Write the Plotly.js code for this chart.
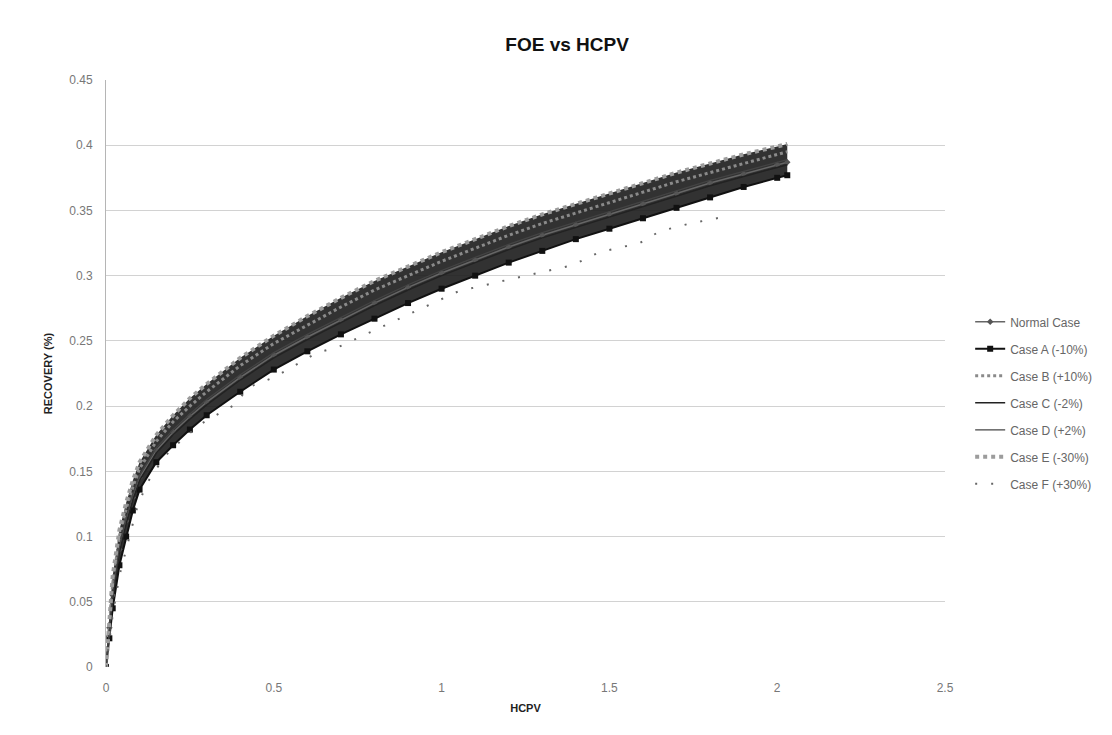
<!DOCTYPE html>
<html>
<head>
<meta charset="utf-8">
<script src="https://cdn.plot.ly/plotly-3.0.1.min.js"></script>
<style>html,body{margin:0;padding:0;background:#fff;}#chart{width:1112px;height:735px;}</style>
</head>
<body>
<div id="chart"></div>
<script>
// HCPV values shared by the main cases
const hcpv = [0, 0.01, 0.02, 0.04, 0.06, 0.08, 0.1, 0.15, 0.2, 0.25, 0.3, 0.4, 0.5, 0.6, 0.7, 0.8, 0.9, 1.0, 1.1, 1.2, 1.3, 1.4, 1.5, 1.6, 1.7, 1.8, 1.9, 2.0, 2.03];

const normalCase = [0, 0.030, 0.055, 0.090, 0.112, 0.130, 0.145, 0.166, 0.180, 0.192, 0.203, 0.222, 0.239, 0.253, 0.266, 0.279, 0.291, 0.302, 0.312, 0.322, 0.331, 0.339, 0.347, 0.355, 0.363, 0.371, 0.378, 0.385, 0.387];
const caseA = [0, 0.022, 0.045, 0.078, 0.100, 0.120, 0.136, 0.157, 0.170, 0.182, 0.193, 0.211, 0.228, 0.242, 0.255, 0.267, 0.279, 0.290, 0.300, 0.310, 0.319, 0.328, 0.336, 0.344, 0.352, 0.360, 0.368, 0.375, 0.377];
const caseB = [0, 0.036, 0.064, 0.100, 0.121, 0.138, 0.152, 0.173, 0.188, 0.200, 0.211, 0.231, 0.248, 0.262, 0.276, 0.289, 0.300, 0.311, 0.321, 0.331, 0.340, 0.348, 0.356, 0.364, 0.372, 0.379, 0.386, 0.393, 0.395];
const caseC = [0, 0.028, 0.053, 0.088, 0.110, 0.128, 0.143, 0.164, 0.178, 0.190, 0.201, 0.220, 0.237, 0.251, 0.264, 0.277, 0.289, 0.300, 0.310, 0.320, 0.329, 0.337, 0.345, 0.353, 0.361, 0.369, 0.376, 0.383, 0.385];
const caseD = [0, 0.032, 0.057, 0.092, 0.114, 0.132, 0.147, 0.168, 0.182, 0.194, 0.205, 0.224, 0.241, 0.255, 0.268, 0.281, 0.293, 0.304, 0.314, 0.324, 0.333, 0.341, 0.349, 0.357, 0.365, 0.373, 0.380, 0.387, 0.389];
const caseE = [0, 0.040, 0.070, 0.105, 0.126, 0.143, 0.157, 0.178, 0.193, 0.206, 0.217, 0.237, 0.254, 0.269, 0.283, 0.296, 0.307, 0.318, 0.328, 0.338, 0.347, 0.355, 0.363, 0.371, 0.379, 0.386, 0.393, 0.399, 0.401];

// Case F (sparse, lower curve)
const hcpvF = [0, 0.01, 0.02, 0.03, 0.04, 0.06, 0.09, 0.12, 0.15, 0.19, 0.28, 0.39, 0.42, 0.5, 0.63, 0.69, 0.9, 1.05, 1.2, 1.39, 1.47, 1.59, 1.65, 1.74, 1.84];
const caseF = [0, 0.02, 0.04, 0.055, 0.07, 0.09, 0.12, 0.14, 0.152, 0.166, 0.186, 0.202, 0.214, 0.222, 0.241, 0.245, 0.27, 0.288, 0.297, 0.308, 0.318, 0.325, 0.334, 0.340, 0.345];

const seriesNames = ['Normal Case', 'Case A (-10%)', 'Case B (+10%)', 'Case C (-2%)', 'Case D (+2%)', 'Case E (-30%)', 'Case F (+30%)'];
const xTicks = [0, 0.5, 1, 1.5, 2, 2.5];
const xTickText = ['0', '0.5', '1', '1.5', '2', '2.5'];
const yTicks = [0, 0.05, 0.1, 0.15, 0.2, 0.25, 0.3, 0.35, 0.4, 0.45];
const yTickText = ['0', '0.05', '0.1', '0.15', '0.2', '0.25', '0.3', '0.35', '0.4', '0.45'];

const traces = [
  // Case A first so the dense band (spread of the cases) can be shaded between A and E
  {x: hcpv, y: caseA, name: seriesNames[1], mode: 'lines+markers', legendgroup: 'a', legendrank: 2,
   line: {color: '#111', width: 2}, marker: {symbol: 'square', size: 6, color: '#111'}},
  {x: hcpv, y: caseE, name: 'band', mode: 'lines', showlegend: false, hoverinfo: 'skip',
   fill: 'tonexty', fillcolor: 'rgba(28,28,28,0.9)', line: {width: 0, color: 'rgba(0,0,0,0)'}},
  {x: hcpv, y: normalCase, name: seriesNames[0], mode: 'lines+markers', legendgroup: 'n', legendrank: 1,
   line: {color: '#666', width: 1.5}, marker: {symbol: 'diamond', size: 5, color: '#555'}},
  {x: hcpv, y: caseB, name: seriesNames[2], mode: 'lines', legendgroup: 'b', legendrank: 3,
   line: {color: '#8a8a8a', width: 3, dash: 'dot'}},
  {x: hcpv, y: caseC, name: seriesNames[3], mode: 'lines', legendgroup: 'c', legendrank: 4,
   line: {color: '#222', width: 1.5}},
  {x: hcpv, y: caseD, name: seriesNames[4], mode: 'lines', legendgroup: 'd', legendrank: 5,
   line: {color: '#444', width: 1.2}},
  {x: hcpv, y: caseE, name: seriesNames[5], mode: 'lines', legendgroup: 'e', legendrank: 6,
   line: {color: '#9c9c9c', width: 4, dash: 'dot'}},
  {x: hcpvF, y: caseF, name: seriesNames[6], mode: 'lines', legendgroup: 'f', legendrank: 7,
   line: {color: '#666', width: 2, dash: '2px,14px'}}
];

const font = 'Liberation Sans, Arial, sans-serif';
const layout = {
  width: 1112, height: 735,
  margin: {l: 106, r: 167, t: 80, b: 68},
  paper_bgcolor: '#fff', plot_bgcolor: '#fff',
  font: {family: font, color: '#666', size: 12},
  title: {text: '<b>FOE vs HCPV</b>', font: {family: font, size: 19, color: '#111'},
          x: 0.51, xanchor: 'center', y: 0.939, yanchor: 'middle'},
  xaxis: {range: [0, 2.5], tickvals: xTicks, ticktext: xTickText, showgrid: false, zeroline: false,
          showline: false, ticks: '', ticklabelstandoff: 12, tickfont: {size: 12, color: '#777'},
          title: {text: '<b>HCPV</b>', font: {family: font, size: 11, color: '#222'}, standoff: 10}},
  yaxis: {range: [0, 0.45], tickvals: yTicks, ticktext: yTickText, showgrid: true, gridcolor: '#d2d2d2',
          gridwidth: 1, zeroline: false, showline: true, linecolor: '#b5b5b5', linewidth: 1, ticks: '',
          ticklabelstandoff: 10, tickfont: {size: 12, color: '#777'},
          title: {text: '<b>RECOVERY (%)</b>', font: {family: font, size: 11, color: '#222'}, standoff: 14}},
  showlegend: true,
  legend: {x: 1.03, xanchor: 'left', y: 0.45, yanchor: 'middle', font: {family: font, size: 12, color: '#666'},
           tracegroupgap: 8, itemwidth: 30, bgcolor: 'rgba(0,0,0,0)'}
};

Plotly.newPlot('chart', traces, layout, {displayModeBar: false, staticPlot: true});
</script>
</body>
</html>
